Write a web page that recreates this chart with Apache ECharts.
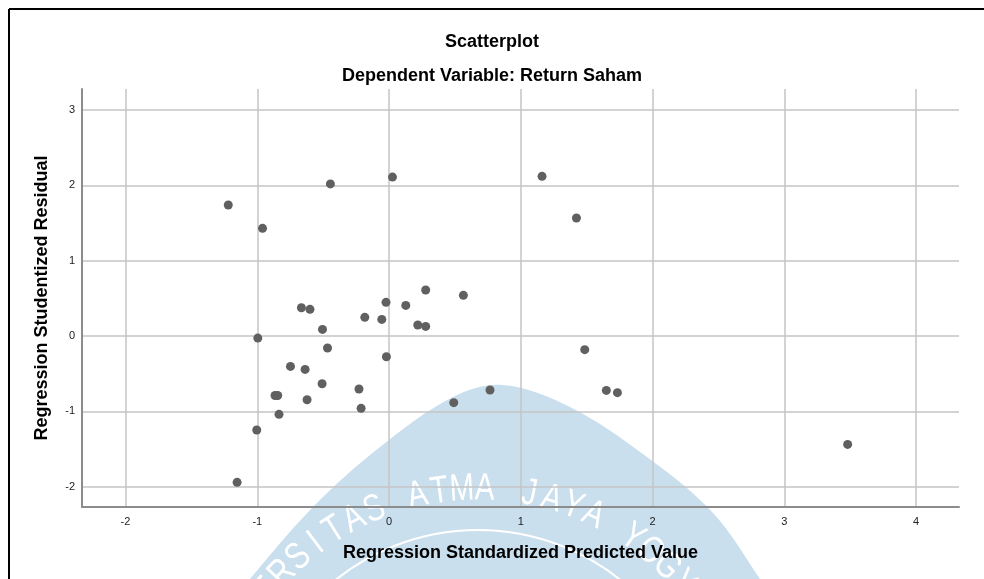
<!DOCTYPE html>
<html>
    <head>
        <meta charset="UTF-8">
        <title>Scatterplot</title>
        <script type="text/javascript" src="https://cdn.jsdelivr.net/npm/echarts@6/dist/echarts.min.js"></script>
        <style>
            html, body { margin: 0; padding: 0; background: #fff; }
        </style>
    </head>
    <body>
        <div id="demo" style="width: 984px; height: 579px;"></div>
    </body>
    <script>
        // Regression Standardized Predicted Value
        var predicted = [
            -1.22, -0.96, -0.445, 0.026, -0.665, -0.60, -0.023, -0.184, -0.055, -0.505,
            -0.996, -0.467, -0.02, -0.748, -0.637, -0.508, -0.228, -0.865, -0.845, -0.622,
            -0.212, -0.835, -1.004, -1.153, 1.161, 1.422, 0.278, 0.564, 0.127, 0.218,
            0.278, 1.485, 1.649, 1.733, 0.766, 0.491, 3.48
        ];
        // Regression Studentized Residual
        var residual = [
            1.74, 1.43, 2.02, 2.11, 0.376, 0.354, 0.447, 0.248, 0.221, 0.088,
            -0.027, -0.159, -0.275, -0.403, -0.443, -0.633, -0.704, -0.79, -0.79, -0.846,
            -0.96, -1.04, -1.248, -1.943, 2.12, 1.567, 0.611, 0.54, 0.407, 0.146,
            0.128, -0.181, -0.722, -0.752, -0.717, -0.885, -1.439
        ];

        var points = [];
        for (var i = 0; i < predicted.length; i++) {
            points.push([predicted[i], residual[i]]);
        }

        var font = '"Liberation Sans", Arial, sans-serif';

        // watermark (logo) drawn under the plot
        var wmBlue = '#c9dfee';
        var wmText = 'UNIVERSITAS ATMA JAYA YOGYAKARTA';
        var wmCx = 478, wmCy = 758, wmR = 269;
        var watermark = [{
            type: 'polygon',
            z: -10,
            shape: {
                points: [[200, 640], [250, 579], [313, 507], [380, 447], [453, 397], [503, 385],
                         [570, 407], [647, 457], [713, 513], [760, 579], [800, 640]],
                smooth: 0.35
            },
            style: { fill: wmBlue }
        }, {
            type: 'circle',
            z: -9,
            shape: { cx: wmCx, cy: wmCy, r: 228 },
            style: { fill: null, stroke: '#fff', lineWidth: 2 }
        }];
        for (var k = 0; k < wmText.length; k++) {
            var th = (-3.4 + (k - 14) * 4.8) * Math.PI / 180;
            watermark.push({
                type: 'text',
                z: -9,
                x: wmCx + wmR * Math.sin(th),
                y: wmCy - wmR * Math.cos(th),
                rotation: -th,
                scaleX: 0.78,
                style: {
                    text: wmText.charAt(k),
                    fill: '#fff',
                    font: '38px ' + font,
                    align: 'center',
                    verticalAlign: 'middle'
                }
            });
        }

        // frame
        var frame = [{
            type: 'line',
            shape: { x1: 9, y1: 9, x2: 984, y2: 9 },
            style: { stroke: '#000', lineWidth: 2 }
        }, {
            type: 'line',
            shape: { x1: 9, y1: 9, x2: 9, y2: 579 },
            style: { stroke: '#000', lineWidth: 2 }
        }];

        var chart = echarts.init(document.getElementById('demo'), null, { renderer: 'canvas' });

        option = {
            backgroundColor: '#fff',
            animation: false,
            title: [{
                left: 'center',
                top: 28,
                text: 'Scatterplot',
                textStyle: { fontFamily: font, fontSize: 18, fontWeight: 'bold', color: '#000' }
            }, {
                left: 'center',
                top: 62,
                text: 'Dependent Variable: Return Saham',
                textStyle: { fontFamily: font, fontSize: 18, fontWeight: 'bold', color: '#000' }
            }],
            grid: [{
                left: 82,
                right: 25,
                top: 89,
                bottom: 72,
                containLabel: false
            }],
            xAxis: [{
                type: 'value',
                min: -2.33,
                max: 4.325,
                splitNumber: 6,
                name: 'Regression Standardized Predicted Value',
                nameLocation: 'middle',
                nameGap: 37,
                nameTextStyle: { fontFamily: font, fontSize: 18, fontWeight: 'bold', color: '#000' },
                axisLine: { show: true, onZero: false, lineStyle: { color: '#8c8c8c', width: 2 } },
                axisTick: { show: false },
                axisLabel: {
                    fontFamily: font, fontSize: 11, color: '#222', margin: 9,
                    showMinLabel: false, showMaxLabel: false
                },
                splitLine: {
                    show: true, showMinLine: false, showMaxLine: false,
                    lineStyle: { color: '#c4c4c4', width: 1.5 }
                }
            }],
            yAxis: [{
                type: 'value',
                min: -2.27,
                max: 3.28,
                splitNumber: 6,
                name: 'Regression Studentized Residual',
                nameLocation: 'middle',
                nameGap: 31,
                nameTextStyle: { fontFamily: font, fontSize: 18, fontWeight: 'bold', color: '#000' },
                axisLine: { show: true, onZero: false, lineStyle: { color: '#8c8c8c', width: 2 } },
                axisTick: { show: false },
                axisLabel: {
                    fontFamily: font, fontSize: 11, color: '#222', margin: 7,
                    showMinLabel: false, showMaxLabel: false
                },
                splitLine: {
                    show: true, showMinLine: false, showMaxLine: false,
                    lineStyle: { color: '#c4c4c4', width: 1.5 }
                }
            }],
            graphic: watermark.concat(frame),
            series: [{
                type: 'scatter',
                symbol: 'circle',
                symbolSize: 9,
                itemStyle: { color: '#606060', opacity: 1 },
                data: points
            }]
        };
        chart.setOption(option);
    </script>
</html>
